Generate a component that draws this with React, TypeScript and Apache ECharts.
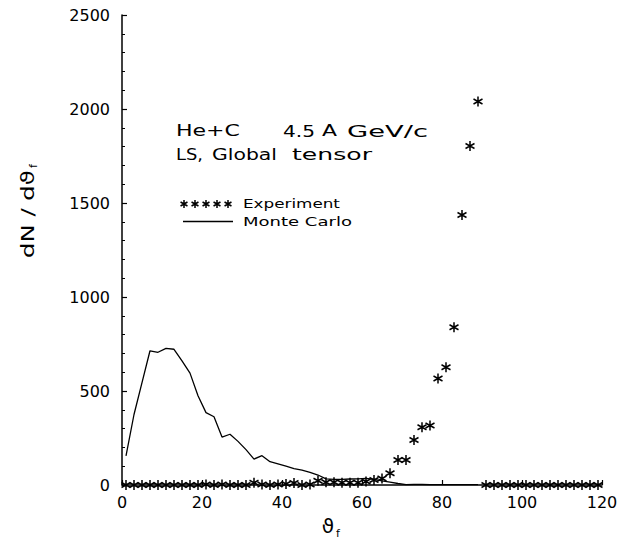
import React, { useEffect, useRef } from "react";
import * as echarts from "echarts";

// ---- Data ----
const expX = [1, 3, 5, 7, 9, 11, 13, 15, 17, 19, 21, 23, 25, 27, 29, 31, 33, 35, 37, 39,
  41, 43, 45, 47, 49, 51, 53, 55, 57, 59, 61, 63, 65, 67, 69, 71, 73, 75, 77, 79,
  81, 83, 85, 87, 89, 91, 93, 95, 97, 99, 101, 103, 105, 107, 109, 111, 113, 115, 117, 119];
const expY = [0, 0, 0, 0, 0, 0, 0, 0, 0, 0, 3, 0, 3, 0, 0, 0, 12, 3, 0, 3,
  5, 10, 0, 3, 22, 15, 15, 12, 12, 12, 18, 27, 35, 62, 133, 133, 239, 307, 316, 567,
  626, 839, 1436, 1803, 2040, 0, 0, 0, 0, 0, 0, 0, 0, 0, 0, 0, 0, 0, 0, 0];

const mcX = [1, 3, 5, 7, 9, 11, 13, 15, 17, 19, 21, 23, 25, 27, 29, 31, 33, 35, 37, 39,
  41, 43, 45, 47, 49, 51, 53, 55, 57, 59, 61, 63, 65, 67, 69, 71, 73, 75, 77, 79,
  81, 83, 85, 87, 89];
const mcY = [155, 375, 545, 714, 706, 727, 722, 660, 595, 475, 385, 363, 255, 270, 232, 188, 138, 156, 124, 113,
  100, 87, 79, 67, 53, 33, 30, 30, 32, 33, 35, 30, 22, 15, 8, 2, 3, 3, 2, 2,
  2, 2, 2, 2, 2];

const xTicks = { min: 0, max: 120, interval: 20 };
const yTicks = { min: 0, max: 2500, interval: 500 };

const annotationLine1 = ["He+C", "4.5", "A", "GeV/c"];
const annotationLine2 = ["LS,", "Global", "tensor"];
const legendNames = ["Experiment", "Monte Carlo"];
const yAxisName = "dN / d\u03D1";
const xAxisName = "\u03D1";
const subscript = "f";

const FONT = "'DejaVu Sans', sans-serif";
const STAR = "path://M0,-5L0,5M-4.33,-2.5L4.33,2.5M-4.33,2.5L4.33,-2.5";

let ctx: CanvasRenderingContext2D | null = null;
function measure(text: string, size: number): number {
  if (!ctx) ctx = document.createElement("canvas").getContext("2d");
  if (!ctx) return text.length * size * 0.6;
  ctx.font = `${size}px 'DejaVu Sans'`;
  return ctx.measureText(text).width;
}

function word(text: string, left: number, right: number, cy: number, size: number) {
  const w = measure(text, size);
  return {
    type: "text",
    x: left,
    y: cy,
    scaleX: (right - left) / w,
    style: { text, font: `${size}px ${FONT}`, fill: "#000", textAlign: "left", textVerticalAlign: "middle" },
    silent: true,
  };
}

export default function App() {
  const ref = useRef<HTMLDivElement>(null);

  useEffect(() => {
    if (!ref.current) return;
    echarts.graphic.registerShape(
      "asterisk",
      echarts.graphic.extendPath("M0,-4L0,4M-3.46,-2L3.46,2M-3.46,2L3.46,-2", {}) as any
    );
    const chart = echarts.init(ref.current, null, { renderer: "svg" });

    const line1Pos = [[176, 240], [283, 315], [322, 337], [347, 428]];
    const line2Pos = [[176, 203], [212, 277], [292, 372]];

    const graphics: any[] = [];
    annotationLine1.forEach((t, i) => graphics.push(word(t, line1Pos[i][0], line1Pos[i][1], 131, 16)));
    annotationLine2.forEach((t, i) => graphics.push(word(t, line2Pos[i][0], line2Pos[i][1], 154, 16)));
    graphics.push(word(legendNames[0], 243, 340, 204, 13));
    graphics.push(word(legendNames[1], 243, 352, 221.5, 13));
    for (let i = 0; i < 5; i++) {
      graphics.push({
        type: "asterisk",
        x: 184 + i * 11,
        y: 204,
        style: { stroke: "#000", lineWidth: 1.5, fill: null },
        silent: true,
      });
    }
    graphics.push({
      type: "line",
      shape: { x1: 183, y1: 221.5, x2: 233, y2: 221.5 },
      style: { stroke: "#000", lineWidth: 1.3 },
      silent: true,
    });
    // y axis name (rotated)
    const yMain = measure(yAxisName, 18);
    graphics.push({
      type: "group",
      x: 28,
      y: 212,
      rotation: Math.PI / 2,
      children: [
        {
          type: "text",
          x: -46,
          y: 0,
          scaleX: 88 / yMain,
          style: { text: yAxisName, font: `18px ${FONT}`, fill: "#000", textAlign: "left", textVerticalAlign: "middle" },
        },
        {
          type: "text",
          x: 46,
          y: 5,
          style: { text: subscript, font: `11px ${FONT}`, fill: "#000", textAlign: "center", textVerticalAlign: "middle" },
        },
      ],
      silent: true,
    });
    // x axis name
    graphics.push({
      type: "text",
      x: 328,
      y: 526,
      style: { text: xAxisName, font: `20px ${FONT}`, fill: "#000", textAlign: "center", textVerticalAlign: "middle" },
      silent: true,
    });
    graphics.push({
      type: "text",
      x: 338,
      y: 533,
      style: { text: subscript, font: `11px ${FONT}`, fill: "#000", textAlign: "center", textVerticalAlign: "middle" },
      silent: true,
    });

    chart.setOption({
      animation: false,
      backgroundColor: "#fff",
      grid: { left: 122, right: 27, top: 15, bottom: 58, containLabel: false },
      xAxis: {
        type: "value",
        min: xTicks.min,
        max: xTicks.max,
        interval: xTicks.interval,
        axisLine: { show: true, onZero: false, lineStyle: { color: "#000", width: 1.5 } },
        axisTick: { show: true, inside: true, length: 5, lineStyle: { color: "#000", width: 1.2 } },
        axisLabel: { color: "#000", fontSize: 16, fontFamily: FONT, margin: 9, formatter: (v: number) => String(v) },
        splitLine: { show: false },
      },
      yAxis: {
        type: "value",
        min: yTicks.min,
        max: yTicks.max,
        interval: yTicks.interval,
        axisLine: { show: true, lineStyle: { color: "#000", width: 1.5 } },
        axisTick: { show: true, inside: true, length: 5, lineStyle: { color: "#000", width: 1.2 } },
        minorTick: { show: true, splitNumber: 5, length: 3, lineStyle: { color: "#000", width: 1 } },
        axisLabel: { color: "#000", fontSize: 16, fontFamily: FONT, margin: 12, formatter: (v: number) => String(v) },
        splitLine: { show: false },
      },
      series: [
        {
          name: legendNames[1],
          type: "line",
          data: mcX.map((x, i) => [x, mcY[i]]),
          symbol: "none",
          lineStyle: { color: "#000", width: 1.3 },
          z: 2,
        },
        {
          name: legendNames[0],
          type: "scatter",
          data: expX.map((x, i) => [x, expY[i]]),
          symbol: STAR,
          symbolSize: [9, 10],
          itemStyle: { color: "#000", borderColor: "#000", borderWidth: 1.6, opacity: 1 },
          z: 3,
        },
      ],
      graphic: graphics,
    });

    return () => chart.dispose();
  }, []);

  return <div ref={ref} style={{ position: "fixed", left: 0, top: 0, width: 629, height: 543, background: "#fff" }} />;
}
